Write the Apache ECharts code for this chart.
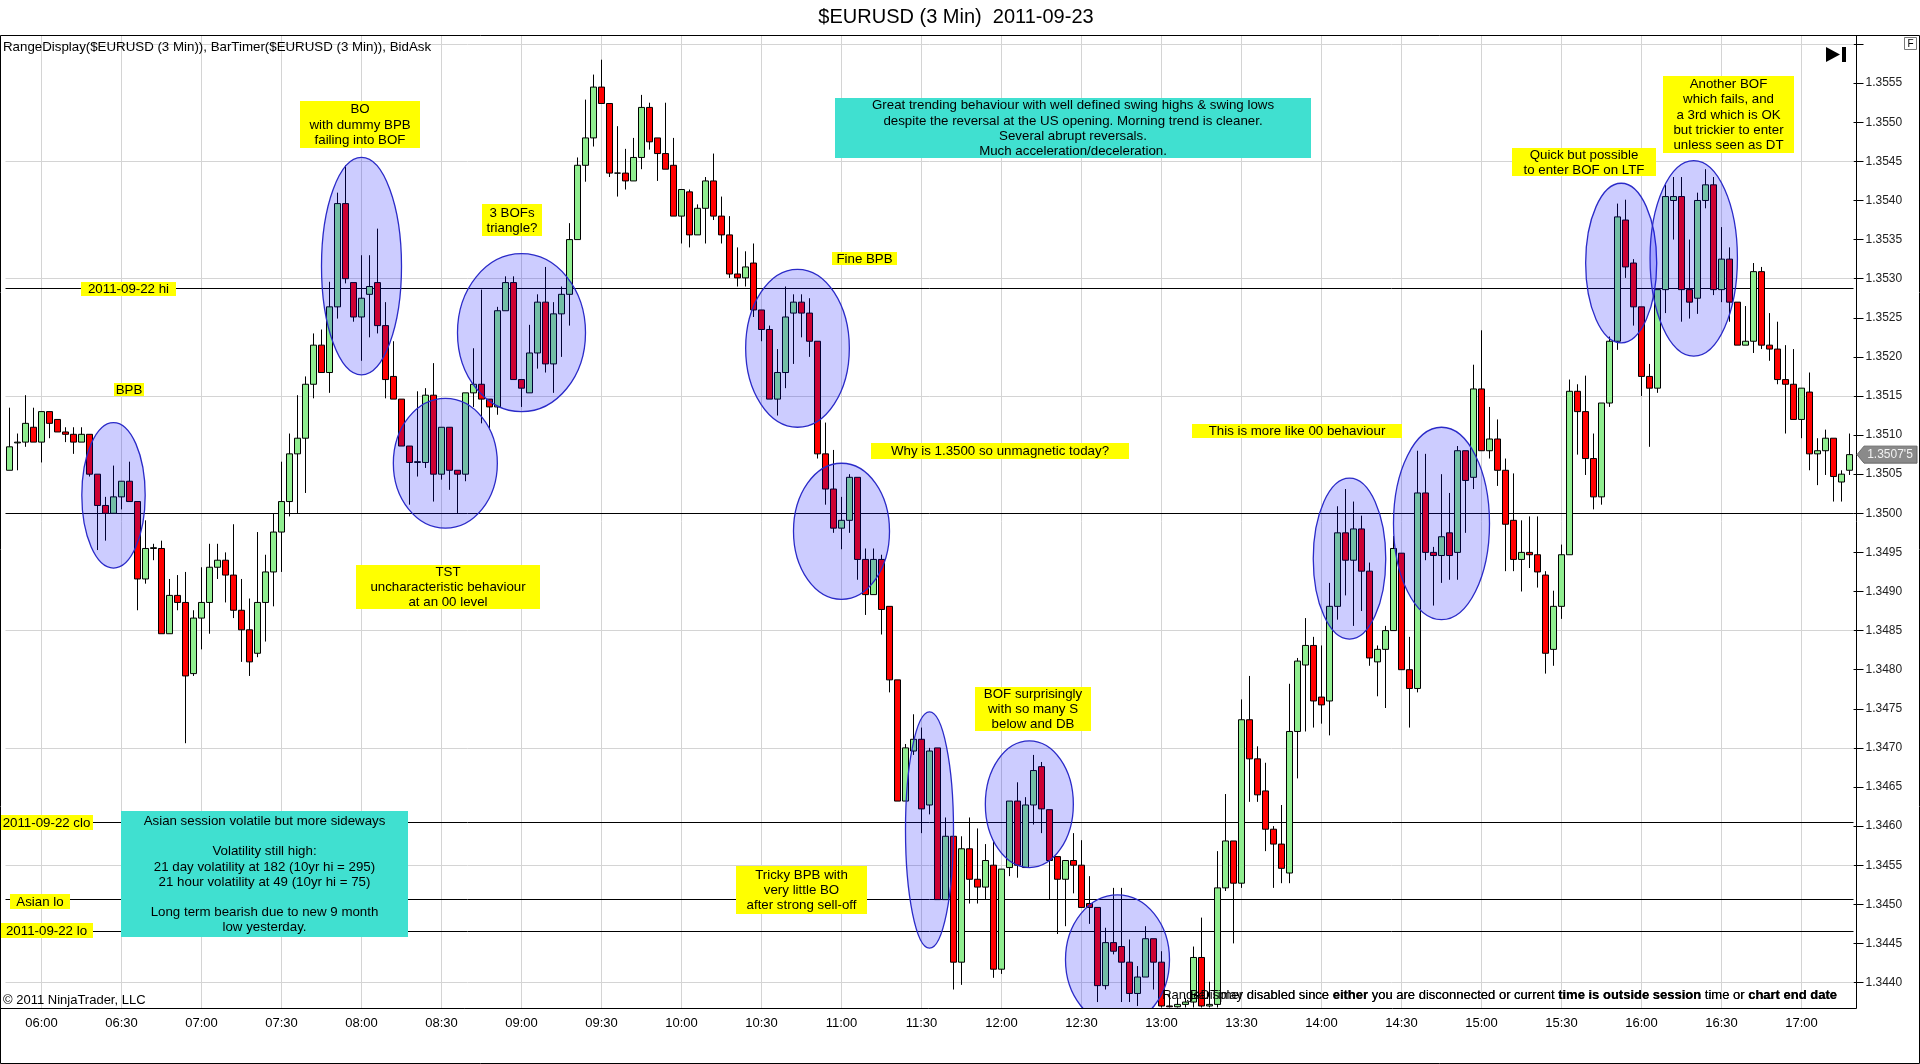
<!DOCTYPE html>
<html>
<head>
<meta charset="utf-8">
<script src="https://cdn.jsdelivr.net/npm/echarts@6/dist/echarts.min.js"></script>
<style>html,body{margin:0;padding:0;background:#fff}#chart{width:1920px;height:1064px}</style>
</head>
<body>
<div id="chart"></div>
<script>
// ---------------- DATA ($EURUSD 3 Min, 2011-09-23) ----------------
// bar times: 05:48 ... 17:18, 3-minute bars
const times = [];
for (let m = 5 * 60 + 48; m <= 17 * 60 + 18; m += 3) {
  times.push(String(Math.floor(m / 60)).padStart(2, '0') + ':' + String(m % 60).padStart(2, '0'));
}
const opens = [
1.35055,1.35090,1.35091,1.35110,1.35091,1.35130,1.35120,1.35104,1.35101,1.35091,
1.35101,1.35050,1.35010,1.35000,1.35021,1.35041,1.35015,1.34916,1.34955,1.34955,
1.34846,1.34895,1.34886,1.34795,1.34866,1.34886,1.34931,1.34940,1.34921,1.34876,
1.34851,1.34821,1.34886,1.34925,1.34976,1.35015,1.35076,1.35096,1.35165,1.35215,
1.35180,1.35264,1.35396,1.35295,1.35251,1.35280,1.35295,1.35240,1.35175,1.35146,
1.35086,1.35065,1.35065,1.35151,1.35050,1.35110,1.35055,1.35050,1.35154,1.35165,
1.35146,1.35136,1.35259,1.35295,1.35171,1.35154,1.35205,1.35270,1.35191,1.35255,
1.35280,1.35350,1.35445,1.35480,1.35545,1.35524,1.35435,1.35435,1.35425,1.35455,
1.35519,1.35480,1.35460,1.35445,1.35380,1.35411,1.35356,1.35390,1.35425,1.35380,
1.35356,1.35306,1.35301,1.35320,1.35260,1.35235,1.35146,1.35180,1.35256,1.35270,
1.35256,1.35220,1.35076,1.35031,1.34981,1.34991,1.35046,1.34941,1.34896,1.34941,
1.34881,1.34787,1.34632,1.34696,1.34711,1.34627,1.34700,1.34506,1.34587,1.34426,
1.34571,1.34532,1.34522,1.34550,1.34417,1.34547,1.34632,1.34547,1.34627,1.34676,
1.34621,1.34561,1.34532,1.34556,1.34550,1.34501,1.34496,1.34396,1.34451,1.34446,
1.34426,1.34386,1.34407,1.34456,1.34426,1.34370,1.34369,1.34372,1.34375,1.34432,
1.34370,1.34372,1.34521,1.34581,1.34527,1.34736,1.34686,1.34645,1.34596,1.34577,
1.34540,1.34721,1.34806,1.34831,1.34765,1.34760,1.34881,1.34975,1.34940,1.34980,
1.34926,1.34810,1.34826,1.34850,1.34949,1.34800,1.34776,1.35026,1.34950,1.34946,
1.34975,1.34950,1.35080,1.35046,1.35159,1.35080,1.35095,1.35055,1.34991,1.34941,
1.34950,1.34947,1.34921,1.34826,1.34881,1.34947,1.35156,1.35130,1.35070,1.35021,
1.35141,1.35220,1.35375,1.35320,1.35264,1.35175,1.35160,1.35286,1.35400,1.35405,
1.35286,1.35275,1.35400,1.35420,1.35286,1.35325,1.35270,1.35215,1.35220,1.35309,
1.35215,1.35210,1.35171,1.35165,1.35120,1.35155,1.35076,1.35080,1.35096,1.35040,
1.35055];
const highs = [
1.35135,1.35102,1.35151,1.35135,1.35130,1.35130,1.35120,1.35110,1.35110,1.35110,
1.35101,1.35050,1.35021,1.35061,1.35041,1.35066,1.35015,1.34991,1.34961,1.34965,
1.34916,1.34921,1.34925,1.34876,1.34931,1.34961,1.34961,1.34950,1.34986,1.34916,
1.34891,1.34976,1.34947,1.35000,1.35066,1.35102,1.35151,1.35175,1.35230,1.35235,
1.35296,1.35410,1.35445,1.35295,1.35330,1.35330,1.35364,1.35270,1.35220,1.35146,
1.35086,1.35156,1.35160,1.35192,1.35110,1.35110,1.35055,1.35154,1.35211,1.35286,
1.35146,1.35264,1.35303,1.35303,1.35171,1.35241,1.35280,1.35315,1.35270,1.35290,
1.35371,1.35455,1.35529,1.35561,1.35580,1.35524,1.35495,1.35466,1.35480,1.35535,
1.35525,1.35480,1.35525,1.35480,1.35414,1.35414,1.35395,1.35430,1.35460,1.35405,
1.35380,1.35340,1.35335,1.35345,1.35260,1.35240,1.35210,1.35290,1.35280,1.35280,
1.35275,1.35220,1.35116,1.35081,1.35021,1.35050,1.35046,1.34955,1.34955,1.34947,
1.34881,1.34787,1.34705,1.34743,1.34726,1.34700,1.34700,1.34611,1.34587,1.34587,
1.34611,1.34597,1.34577,1.34581,1.34545,1.34632,1.34656,1.34637,1.34691,1.34682,
1.34621,1.34561,1.34556,1.34591,1.34582,1.34536,1.34496,1.34470,1.34521,1.34521,
1.34455,1.34421,1.34472,1.34456,1.34440,1.34385,1.34380,1.34380,1.34446,1.34483,
1.34401,1.34568,1.34641,1.34581,1.34762,1.34792,1.34702,1.34681,1.34600,1.34627,
1.34782,1.34815,1.34866,1.34842,1.34831,1.34911,1.35009,1.35031,1.35015,1.34997,
1.34937,1.34831,1.34856,1.34971,1.34949,1.34842,1.35080,1.35076,1.34957,1.35050,
1.35026,1.35086,1.35080,1.35190,1.35234,1.35136,1.35120,1.35070,1.35051,1.34991,
1.34996,1.34996,1.34926,1.34901,1.34960,1.35171,1.35165,1.35176,1.35102,1.35141,
1.35226,1.35396,1.35401,1.35325,1.35264,1.35191,1.35286,1.35420,1.35430,1.35430,
1.35350,1.35410,1.35440,1.35430,1.35366,1.35340,1.35270,1.35265,1.35320,1.35315,
1.35256,1.35245,1.35215,1.35210,1.35160,1.35180,1.35096,1.35107,1.35096,1.35055,
1.35102];
const lows = [
1.35055,1.35055,1.35085,1.35091,1.35065,1.35096,1.35104,1.35091,1.35076,1.35091,
1.35047,1.34953,1.34965,1.35000,1.35005,1.35015,1.34876,1.34910,1.34940,1.34846,
1.34846,1.34876,1.34706,1.34792,1.34826,1.34846,1.34916,1.34886,1.34866,1.34810,
1.34792,1.34816,1.34836,1.34881,1.34925,1.34996,1.35000,1.35026,1.35147,1.35180,
1.35154,1.35249,1.35294,1.35245,1.35195,1.35225,1.35230,1.35147,1.35146,1.35086,
1.35011,1.35047,1.35058,1.35015,1.35043,1.35030,1.35000,1.35041,1.35136,1.35115,
1.35107,1.35126,1.35259,1.35171,1.35136,1.35154,1.35185,1.35180,1.35154,1.35200,
1.35240,1.35350,1.35424,1.35469,1.35524,1.35430,1.35405,1.35414,1.35425,1.35440,
1.35465,1.35425,1.35440,1.35380,1.35345,1.35340,1.35356,1.35345,1.35375,1.35345,
1.35301,1.35290,1.35290,1.35251,1.35220,1.35146,1.35125,1.35160,1.35191,1.35225,
1.35200,1.35070,1.35011,1.34975,1.34954,1.34975,1.34915,1.34870,1.34896,1.34845,
1.34771,1.34632,1.34632,1.34691,1.34591,1.34615,1.34506,1.34506,1.34391,1.34397,
1.34501,1.34501,1.34506,1.34406,1.34411,1.34536,1.34534,1.34547,1.34602,1.34591,
1.34506,1.34462,1.34472,1.34514,1.34496,1.34475,1.34375,1.34391,1.34436,1.34375,
1.34375,1.34370,1.34407,1.34391,1.34368,1.34368,1.34368,1.34368,1.34368,1.34368,
1.34368,1.34368,1.34517,1.34450,1.34521,1.34631,1.34631,1.34568,1.34521,1.34527,
1.34527,1.34661,1.34721,1.34726,1.34731,1.34716,1.34864,1.34895,1.34856,1.34875,
1.34805,1.34766,1.34751,1.34850,1.34800,1.34726,1.34771,1.34940,1.34882,1.34911,
1.34915,1.34915,1.34975,1.35031,1.35080,1.35070,1.35035,1.34926,1.34926,1.34900,
1.34930,1.34905,1.34795,1.34805,1.34865,1.34947,1.35075,1.35049,1.35005,1.35011,
1.35136,1.35209,1.35301,1.35240,1.35150,1.35085,1.35154,1.35256,1.35350,1.35245,
1.35249,1.35255,1.35390,1.35279,1.35270,1.35245,1.35215,1.35215,1.35205,1.35210,
1.35195,1.35165,1.35102,1.35120,1.35096,1.35055,1.35036,1.35049,1.35015,1.35015,
1.35049];
const closes = [
1.35085,1.35091,1.35115,1.35091,1.35130,1.35115,1.35104,1.35101,1.35091,1.35101,
1.35050,1.35010,1.35000,1.35021,1.35041,1.35015,1.34916,1.34955,1.34956,1.34846,
1.34895,1.34886,1.34792,1.34866,1.34886,1.34931,1.34940,1.34921,1.34876,1.34851,
1.34810,1.34886,1.34925,1.34976,1.35015,1.35076,1.35096,1.35165,1.35215,1.35180,
1.35264,1.35396,1.35300,1.35251,1.35275,1.35290,1.35240,1.35171,1.35146,1.35086,
1.35065,1.35066,1.35151,1.35050,1.35110,1.35055,1.35050,1.35154,1.35165,1.35146,
1.35136,1.35259,1.35295,1.35171,1.35160,1.35205,1.35270,1.35191,1.35255,1.35280,
1.35350,1.35445,1.35480,1.35545,1.35524,1.35435,1.35435,1.35425,1.35455,1.35519,
1.35475,1.35460,1.35440,1.35380,1.35414,1.35356,1.35390,1.35425,1.35380,1.35356,
1.35306,1.35301,1.35315,1.35260,1.35235,1.35146,1.35180,1.35251,1.35270,1.35256,
1.35220,1.35076,1.35031,1.34981,1.34991,1.35046,1.34941,1.34896,1.34941,1.34877,
1.34787,1.34632,1.34700,1.34711,1.34622,1.34696,1.34506,1.34587,1.34426,1.34571,
1.34532,1.34522,1.34556,1.34417,1.34545,1.34632,1.34550,1.34627,1.34671,1.34622,
1.34556,1.34532,1.34556,1.34550,1.34496,1.34496,1.34396,1.34451,1.34440,1.34426,
1.34386,1.34407,1.34456,1.34426,1.34370,1.34369,1.34372,1.34375,1.34432,1.34370,
1.34372,1.34521,1.34581,1.34527,1.34736,1.34686,1.34640,1.34596,1.34577,1.34546,
1.34721,1.34811,1.34831,1.34760,1.34755,1.34881,1.34975,1.34940,1.34980,1.34926,
1.34815,1.34826,1.34850,1.34955,1.34800,1.34776,1.35026,1.34950,1.34946,1.34970,
1.34946,1.35080,1.35042,1.35159,1.35080,1.35095,1.35055,1.34986,1.34941,1.34950,
1.34947,1.34925,1.34821,1.34881,1.34947,1.35156,1.35130,1.35070,1.35021,1.35141,
1.35220,1.35379,1.35315,1.35264,1.35175,1.35160,1.35286,1.35405,1.35405,1.35286,
1.35270,1.35400,1.35420,1.35286,1.35325,1.35270,1.35215,1.35220,1.35309,1.35215,
1.35210,1.35171,1.35165,1.35120,1.35160,1.35076,1.35080,1.35096,1.35047,1.35050,
1.35075];
// price levels drawn as black horizontal lines
const levelNames  = ['2011-09-22 hi', '1.3500', '2011-09-22 clo', 'Asian lo', '2011-09-22 lo'];
const levelValues = [1.35288, 1.35000, 1.34605, 1.34506, 1.34465];
// horizontal grid levels
const gridLevels = [1.3440, 1.3455, 1.3470, 1.3485, 1.3515, 1.3530, 1.3545, 1.3560];
// ------------------------------------------------------------------

// annotation ellipses (anchored to bar time / price)
const ellipses = [
  {t:'06:27', p:1.35023, rx:3.96, ry:0.00093, dx:0},
  {t:'08:00', p:1.35316, rx:5.0,  ry:0.00139, dx:0},
  {t:'08:30', p:1.35064, rx:6.5,  ry:0.00083, dx:0.48},
  {t:'09:00', p:1.35231, rx:8.0,  ry:0.00101, dx:0},
  {t:'10:42', p:1.35211, rx:6.48, ry:0.00101, dx:0.5},
  {t:'11:00', p:1.34977, rx:6.0,  ry:0.00087, dx:0},
  {t:'11:33', p:1.34595, rx:3.0,  ry:0.00151, dx:0},
  {t:'12:09', p:1.34628, rx:5.5,  ry:0.00081, dx:0.48},
  {t:'12:42', p:1.34429, rx:6.5,  ry:0.00083, dx:0.5},
  {t:'14:09', p:1.34942, rx:4.53, ry:0.00103, dx:0.5},
  {t:'14:45', p:1.34987, rx:6.0,  ry:0.00123, dx:0},
  {t:'15:51', p:1.35320, rx:4.44, ry:0.00102, dx:0.46},
  {t:'16:18', p:1.35326, rx:5.46, ry:0.00125, dx:0.53}
];

const FONT = '"Liberation Sans", Arial, sans-serif';
const NF = '13.3px ' + FONT;
const candles = opens.map((o, i) => [o, closes[i], lows[i], highs[i]]);
const halfHours = times.filter(t => t >= '06:00' && t <= '17:00' && (t.endsWith(':00') || t.endsWith(':30')));

const markData = [];
halfHours.forEach(t => markData.push({xAxis: t, lineStyle: {color: '#d4d4d4', width: 1, type: 'solid'}}));
gridLevels.forEach(v => markData.push({yAxis: v, lineStyle: {color: '#d4d4d4', width: 1, type: 'solid'}}));
levelValues.forEach(v => markData.push({yAxis: v, lineStyle: {color: '#000', width: 1, type: 'solid'}}));

function note(x0, y0, x1, y1, text, fill) {
  return [
    {type: 'rect', z: 100, silent: true, shape: {x: x0, y: y0, width: x1 - x0, height: y1 - y0}, style: {fill: fill}},
    {type: 'text', z: 101, silent: true, x: (x0 + x1) / 2, y: (y0 + y1) / 2 + 0.5,
     style: {text: text, fill: '#000', font: NF, align: 'center', verticalAlign: 'middle',
             textAlign: 'center', textVerticalAlign: 'middle', lineHeight: 15.2}}
  ];
}
const Y = '#ffff00', T = '#40e0d0';
let graphics = [].concat(
  note(114, 383, 144, 396, 'BPB', Y),
  note(300, 101, 420, 148, 'BO\nwith dummy BPB\nfailing into BOF', Y),
  note(482, 204, 542, 236, '3 BOFs\ntriangle?', Y),
  note(832, 252, 897, 265, 'Fine BPB', Y),
  note(871, 443, 1129, 459, 'Why is 1.3500 so unmagnetic today?', Y),
  note(356, 565, 540, 609, 'TST\nuncharacteristic behaviour\nat an 00 level', Y),
  note(975, 687, 1091, 731, 'BOF surprisingly\nwith so many S\nbelow and DB', Y),
  note(736, 866, 867, 914, 'Tricky BPB with\nvery little BO\nafter strong sell-off', Y),
  note(1192, 424, 1402, 438, 'This is more like 00 behaviour', Y),
  note(1512, 148, 1656, 176, 'Quick but possible\nto enter BOF on LTF', Y),
  note(1663, 76, 1794, 153, 'Another BOF\nwhich fails, and\na 3rd which is OK\nbut trickier to enter\nunless seen as DT', Y),
  note(81, 282, 176, 296, levelNames[0], Y),
  note(0, 815, 93, 830, levelNames[2], Y),
  note(10, 894, 70, 909, levelNames[3], Y),
  note(0, 923, 93, 938, levelNames[4], Y),
  note(835, 98, 1311, 158, 'Great trending behaviour with well defined swing highs & swing lows\ndespite the reversal at the US opening. Morning trend is cleaner.\nSeveral abrupt reversals.\nMuch acceleration/deceleration.', T),
  note(121, 811, 408, 937, 'Asian session volatile but more sideways\n\nVolatility still high:\n21 day volatility at 182 (10yr hi = 295)\n21 hour volatility at 49 (10yr hi = 75)\n\nLong term bearish due to new 9 month\nlow yesterday.', T)
);
const statusRich = {n: {font: '13px ' + FONT, fill: '#000'}, b: {font: 'bold 13px ' + FONT, fill: '#000'}};
const statusTail = ' disabled since }{b|either}{n| you are disconnected or current }{b|time is outside session}{n| time or }{b|chart end date}';
graphics = graphics.concat([
  // frames / axis lines
  {type: 'rect', z: 110, silent: true, shape: {x: 0.5, y: 35.5, width: 1919, height: 1028}, style: {fill: 'none', stroke: '#000', lineWidth: 1}},
  {type: 'line', z: 110, silent: true, shape: {x1: 0, y1: 1008.5, x2: 1856.5, y2: 1008.5}, style: {stroke: '#000', lineWidth: 1}},
  {type: 'line', z: 110, silent: true, shape: {x1: 1856.5, y1: 35, x2: 1856.5, y2: 1008.5}, style: {stroke: '#000', lineWidth: 1}},
  // title and header texts
  {type: 'text', z: 110, silent: true, x: 956, y: 17, style: {text: '$EURUSD (3 Min)  2011-09-23', font: '20px ' + FONT, fill: '#000', align: 'center', verticalAlign: 'middle', textAlign: 'center', textVerticalAlign: 'middle'}},
  {type: 'text', z: 110, silent: true, x: 3, y: 47.5, style: {text: 'RangeDisplay($EURUSD (3 Min)), BarTimer($EURUSD (3 Min)), BidAsk', font: NF, fill: '#000', align: 'left', verticalAlign: 'middle', textAlign: 'left', textVerticalAlign: 'middle'}},
  {type: 'text', z: 110, silent: true, x: 3, y: 1000, style: {text: '\u00a9 2011 NinjaTrader, LLC', font: '13px ' + FONT, fill: '#000', align: 'left', verticalAlign: 'middle', textAlign: 'left', textVerticalAlign: 'middle'}},
  // overlapping status texts
  {type: 'text', z: 110, silent: true, x: 1837, y: 995, style: {text: '{n|RangeDisplay' + statusTail, align: 'right', verticalAlign: 'middle', textAlign: 'right', textVerticalAlign: 'middle', fill: '#000', rich: statusRich}},
  {type: 'text', z: 111, silent: true, x: 1837, y: 995, style: {text: '{n|BarTimer' + statusTail, align: 'right', verticalAlign: 'middle', textAlign: 'right', textVerticalAlign: 'middle', fill: '#000', rich: statusRich}},
  // play-to-end icon
  {type: 'polygon', z: 110, silent: true, shape: {points: [[1826, 47], [1826, 62], [1840, 54.5]]}, style: {fill: '#000'}},
  {type: 'rect', z: 110, silent: true, shape: {x: 1842, y: 47, width: 4, height: 15}, style: {fill: '#000'}},
  // F box
  {type: 'rect', z: 110, silent: true, shape: {x: 1904.5, y: 37.5, width: 12, height: 12}, style: {fill: '#fff', stroke: '#777', lineWidth: 1}},
  {type: 'text', z: 111, silent: true, x: 1910.5, y: 44, style: {text: 'F', font: '10px ' + FONT, fill: '#000', align: 'center', verticalAlign: 'middle', textAlign: 'center', textVerticalAlign: 'middle'}}
]);

const chart = echarts.init(document.getElementById('chart'), null, {renderer: 'canvas'});
const option = {
  animation: false,
  backgroundColor: '#ffffff',
  grid: {left: 5.5, right: 66.5, top: 35, bottom: 56, containLabel: false},
  xAxis: {
    type: 'category', data: times, boundaryGap: true,
    axisLine: {show: false}, axisTick: {show: false}, splitLine: {show: false},
    axisLabel: {
      interval: (i, v) => v >= '06:00' && v <= '17:00' && (v.endsWith(':00') || v.endsWith(':30')),
      margin: 9, fontSize: 13, color: '#000', fontFamily: FONT
    }
  },
  yAxis: {
    type: 'value', position: 'right', scale: true,
    min: 1.343674, max: 1.356116, splitNumber: 25,
    axisLine: {show: false},
    axisTick: {show: true, length: 10, lineStyle: {color: '#000'}},
    splitLine: {show: false},
    axisLabel: {
      margin: 12, fontSize: 12, color: '#222', fontFamily: FONT,
      showMinLabel: false, showMaxLabel: false,
      formatter: v => (v < 1.34395 || v > 1.35575) ? '' : v.toFixed(4)
    }
  },
  series: [
    {
      type: 'candlestick', data: candles, barWidth: 6, clip: true, z: 2,
      itemStyle: {color: '#90ee90', color0: '#ff0000', borderColor: '#000', borderColor0: '#000', borderWidth: 1},
      markLine: {silent: true, symbol: ['none', 'none'], label: {show: false}, precision: 6, z: 1, animation: false, data: markData}
    },
    {
      type: 'custom', coordinateSystem: 'cartesian2d', z: 3, clip: true, silent: true,
      data: ellipses.map(e => [e.t, e.p, e.rx, e.ry, e.dx]),
      encode: {x: 0, y: 1},
      renderItem: (params, api) => {
        const c = api.coord([api.value(0), api.value(1)]);
        const bw = api.size([1, 0])[0];
        const ryPx = Math.abs(api.size([0, api.value(3)])[1]);
        return {
          type: 'ellipse',
          shape: {cx: c[0] + api.value(4) * bw, cy: c[1], rx: api.value(2) * bw, ry: ryPx},
          style: {fill: 'rgba(0,0,255,0.2)', stroke: '#2a2ac8', lineWidth: 1.3}
        };
      }
    }
  ],
  graphic: {elements: graphics}
};
chart.setOption(option);

// last-price marker on the price axis
const lastY = chart.convertToPixel({yAxisIndex: 0}, closes[closes.length - 1]);
const lastLabel = closes[closes.length - 1].toFixed(5).replace(/(\d)$/, "'$1");
graphics.push(
  {type: 'polygon', z: 120, silent: true, shape: {points: [[1857, lastY], [1864, lastY - 8.5], [1917, lastY - 8.5], [1917, lastY + 8.5], [1864, lastY + 8.5]]}, style: {fill: '#8a8a8a', stroke: '#6a6a6a', lineWidth: 1}},
  {type: 'text', z: 121, silent: true, x: 1890, y: lastY, style: {text: lastLabel, font: '12px ' + FONT, fill: '#f2f2f2', align: 'center', verticalAlign: 'middle', textAlign: 'center', textVerticalAlign: 'middle'}}
);
chart.setOption({graphic: {elements: graphics}}, {replaceMerge: ['graphic']});
</script>
</body>
</html>
